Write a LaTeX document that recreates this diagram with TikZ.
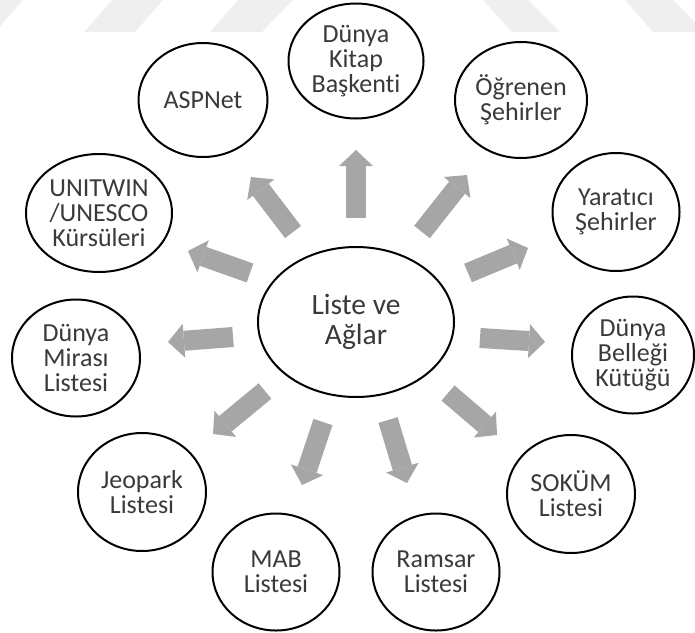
\documentclass[tikz,border=0pt]{standalone}
\usepackage{fontspec}
\setmainfont{Carlito}[Ligatures={NoCommon}]
\usetikzlibrary{shapes.geometric,arrows.meta}
\definecolor{arrowgray}{HTML}{A6A6A6}
\definecolor{txtgray}{HTML}{3A3A3A}
\definecolor{wmgray}{HTML}{EFEFEF}
\tikzset{
  bubble/.style={ellipse,draw=black,line width=2pt,fill=white,inner sep=0pt,
    minimum width=128pt,minimum height=117pt,align=center,text=txtgray,
    font=\fontsize{26}{25}\selectfont},
  hub/.style={bubble,minimum width=196pt,minimum height=150pt,
    font=\fontsize{29.5}{30}\selectfont},
  blk/.style={line width=20pt,draw=arrowgray,
    -{Triangle[width=34pt,length=16pt,line width=0pt,fill=arrowgray]}},
  wm/.style={fill=wmgray,draw=none}
}
\begin{document}
\begin{tikzpicture}[x=1pt,y=-1pt]
\useasboundingbox (0,0) rectangle (695,632);
% faint watermark bands
\fill[wm] (-30,0) -- (23,0) -- (-5,32) -- (-58,32) -- cycle;
\fill[wm] (112,0) -- (163,0) -- (135,32) -- (84,32) -- cycle;
\fill[wm] (238,0) -- (293,0) -- (262,32) -- (210,32) -- cycle;
\fill[wm] (483,0) -- (528,0) -- (560,32) -- (512,32) -- cycle;
\fill[wm] (625,0) -- (673,0) -- (705,32) -- (653,32) -- cycle;
% nodes
\node[hub] (c) at (356,322) {Liste ve\\Ağlar};
\node[bubble,minimum width=135pt,minimum height=115pt] (kitap) at (356,61) {Dünya\\Kitap\\Başkenti};
\node[bubble,minimum width=129pt,minimum height=114pt] (asp) at (203,100) {ASPNet};
\node[bubble,minimum width=132pt,minimum height=116pt] (ogr) at (521,100) {Öğrenen\\Şehirler};
\node[bubble,minimum width=127pt,minimum height=118pt] (yar) at (616,212) {Yaratıcı\\Şehirler};
\node[bubble,minimum width=146pt,minimum height=118pt] (uni) at (99,213) {UNITWIN\\/UNESCO\\Kürsüleri};
\node[bubble] (miras) at (76,358) {Dünya\\Mirası\\Listesi};
\node[bubble,minimum width=122pt] (bel) at (633,355) {Dünya\\Belleği\\Kütüğü};
\node[bubble,minimum height=118pt] (jeo) at (142,492) {Jeopark\\Listesi};
\node[bubble,minimum height=118pt] (sok) at (571,494) {SOKÜM\\Listesi};
\node[bubble,minimum width=127pt] (mab) at (276,572) {MAB\\Listesi};
\node[bubble,minimum width=127pt] (ram) at (436,572) {Ramsar\\Listesi};
% arrow end points
\coordinate (t1) at (356,218);  \coordinate (h1) at (356,150);
\coordinate (t2) at (293,232);  \coordinate (h2) at (251,177);
\coordinate (t3) at (422,232);  \coordinate (h3) at (467,175);
\coordinate (t4) at (250,273);  \coordinate (h4) at (188,251);
\coordinate (t5) at (468,273);  \coordinate (h5) at (528,248);
\coordinate (t6) at (233,337);  \coordinate (h6) at (168,342);
\coordinate (t7) at (480,338);  \coordinate (h7) at (545,342);
\coordinate (t8) at (265,391);  \coordinate (h8) at (213,434);
\coordinate (t9) at (323,422);  \coordinate (h9) at (302,485);
\coordinate (t10) at (388,420); \coordinate (h10) at (407,483);
\coordinate (t11) at (448,393); \coordinate (h11) at (497,435);
\foreach \i in {1,...,11} { \draw[blk] (t\i) -- (h\i); }
\end{tikzpicture}
\end{document}
